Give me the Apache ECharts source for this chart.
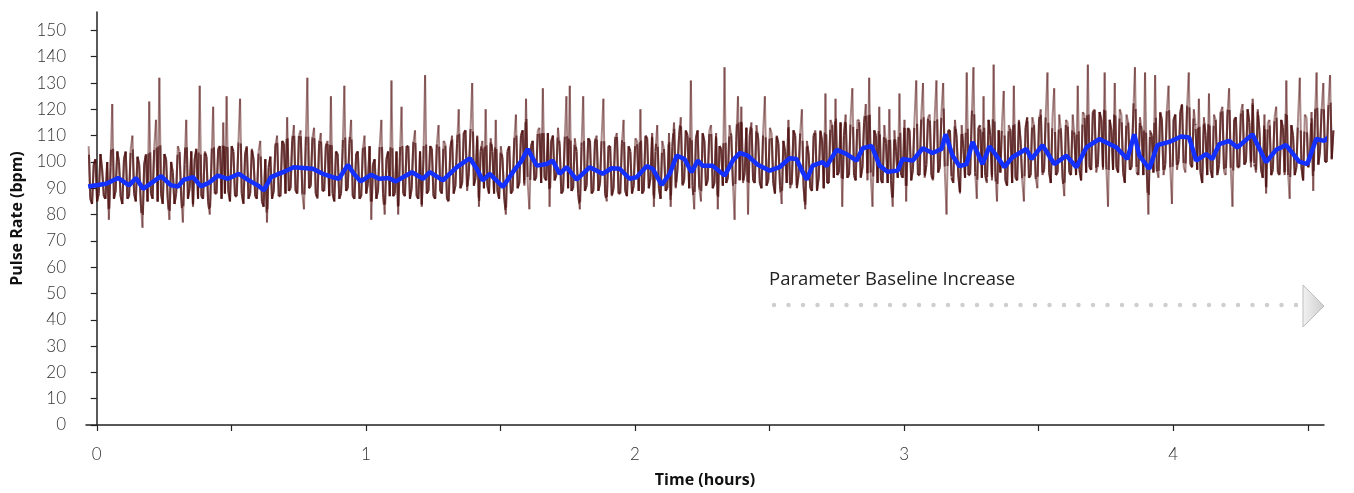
<!DOCTYPE html>
<html>
<head>
<meta charset="utf-8">
<script src="https://cdn.jsdelivr.net/npm/echarts@6/dist/echarts.min.js"></script>
<style>
html,body{margin:0;padding:0;background:#fff;}
#chart{width:1354px;height:493px;}
</style>
</head>
<body>
<div id="chart"></div>
<script>
// ---- data ----
const RAW_START_HOURS = -0.03;     // time of first raw sample
const RAW_STEP_HOURS = 0.00625;    // sampling interval of raw samples
// raw pulse samples, even-numbered samples
const rawPulseEven = [
106,84,101,88,97,86,78,122,89,100,
84,104,87,110,85,99,75,103,123,86,
116,132,84,101,78,96,88,104,77,116,
90,83,105,129,86,102,80,121,88,106,
115,125,85,104,87,124,84,106,88,101,
86,108,83,77,102,89,110,87,107,117,
90,114,88,112,82,132,91,113,86,111,
89,108,125,85,103,88,129,90,116,86,
104,87,110,92,78,101,89,116,80,104,
131,88,80,121,87,106,90,112,86,83,
133,89,105,86,114,88,107,85,110,91,
120,92,112,96,130,94,83,108,120,88,
104,116,86,101,80,106,89,118,92,112,
124,82,108,94,113,128,93,83,110,95,
106,89,125,129,90,104,82,125,91,108,
89,110,92,124,85,106,90,111,88,116,
87,104,91,108,120,89,109,94,83,114,
86,105,90,83,115,97,117,93,110,131,
82,112,85,108,93,114,92,82,105,136,
94,110,78,125,121,96,80,115,92,109,
90,125,93,111,88,107,84,104,116,92,
110,95,120,82,103,89,112,94,108,126,
92,114,124,96,83,118,95,128,93,116,
98,122,132,83,110,121,92,107,120,83,
104,126,94,85,112,97,131,95,130,99,
118,93,131,98,130,80,112,92,109,88,
105,134,95,136,86,114,125,92,110,137,
85,96,127,91,112,129,93,108,85,117,
95,114,90,120,97,134,92,128,96,112,
87,115,95,110,129,93,118,137,97,120,
99,116,134,83,112,130,96,118,92,115,
98,136,95,112,134,80,110,133,94,116,
99,129,84,118,101,122,96,134,98,114,
124,92,110,126,94,116,99,121,95,128,
83,117,98,122,100,115,124,96,112,94,
88,116,97,121,95,113,131,86,110,98,
132,93,117,101,89,134,104,130,100,133,112
];
// raw pulse samples, odd-numbered samples
const rawPulseOdd = [
86,99,85,103,87,100,98,86,104,87,
101,86,105,88,102,84,99,85,88,106,
85,88,103,86,100,84,106,87,99,86,
104,101,86,87,104,85,100,88,105,86,
88,89,106,87,107,88,103,86,105,87,
104,85,101,98,86,106,87,108,88,89,
108,89,110,88,106,90,109,88,107,89,
106,87,88,104,86,105,89,107,87,103,
86,105,88,106,99,86,106,88,101,87,
87,104,102,88,106,86,107,87,104,101,
88,106,87,107,89,108,86,105,88,107,
90,111,89,112,91,110,104,90,91,109,
88,89,106,87,104,88,108,90,110,91,
92,106,93,112,92,94,111,108,93,113,
88,108,90,89,109,88,106,89,109,88,
108,89,110,88,106,87,109,88,107,89,
106,88,109,89,88,110,90,111,104,90,
108,89,111,106,90,110,91,112,90,91,
109,90,111,91,112,90,111,106,91,92,
114,92,108,93,92,113,110,93,114,92,
112,91,113,92,110,91,108,92,90,112,
90,111,91,108,90,110,89,112,90,92,
116,94,95,115,110,94,117,95,116,94,
115,93,94,112,92,93,114,92,93,112,
94,95,116,113,93,117,95,118,94,117,
95,118,96,119,96,112,94,116,95,114,
94,95,117,96,113,94,95,116,93,96,
112,115,93,114,92,94,116,93,113,94,
117,94,116,95,118,96,117,95,118,94,
116,96,118,95,97,119,96,98,119,96,
119,97,98,116,97,98,120,96,118,97,
118,96,117,95,97,112,96,97,119,95,
120,98,116,97,119,98,121,99,120,97,
96,117,95,97,118,95,119,96,118,97,
116,98,119,99,120,98,99,120,97,118,
115,95,117,96,116,95,96,114,95,117,
98,118,98,119,116,99,120,100,121,101
];

// smoothed trend (blue)
const trendTime = [
-0.032,0.035,0.079,0.120,0.146,0.172,0.209,0.239,0.276,0.302,
0.324,0.358,0.387,0.417,0.450,0.487,0.528,0.565,0.598,0.621,
0.647,0.692,0.732,0.803,0.840,0.877,0.900,0.933,0.955,0.981,
1.019,1.049,1.085,1.111,1.171,1.212,1.238,1.286,1.338,1.386,
1.412,1.434,1.460,1.479,1.509,1.546,1.579,1.601,1.635,1.672,
1.694,1.720,1.746,1.783,1.832,1.880,1.913,1.943,1.980,2.006,
2.043,2.066,2.099,2.129,2.155,2.184,2.210,2.233,2.251,2.288,
2.333,2.363,2.389,2.419,2.456,2.500,2.537,2.574,2.600,2.623,
2.638,2.660,2.697,2.712,2.749,2.786,2.823,2.846,2.879,2.909,
2.938,2.976,2.994,3.032,3.069,3.106,3.139,3.154,3.180,3.206,
3.232,3.254,3.291,3.317,3.343,3.373,3.402,3.454,3.473,3.514,
3.558,3.603,3.640,3.677,3.725,3.789,3.829,3.855,3.874,3.911,
3.941,3.985,4.029,4.059,4.085,4.122,4.145,4.171,4.208,4.238,
4.294,4.345,4.382,4.419,4.468,4.498,4.531,4.561,4.580,4.602
];
const trendPulse = [
90.7,91.7,93.9,91.1,93.9,89.8,92.4,94.6,91.1,90.7,
93.3,94.2,90.7,92.1,94.8,93.6,95.5,93.0,91.1,89.2,
94.2,96.1,98.0,97.4,95.5,94.2,93.6,98.9,95.5,92.6,
95.1,93.6,93.9,92.6,96.1,93.6,96.1,93.0,98.0,101.4,
97.4,93.0,95.5,93.6,90.5,96.1,100.5,104.9,98.6,99.2,
100.5,95.5,98.0,93.3,98.0,95.5,97.6,97.4,93.6,94.2,
98.4,97.4,91.3,95.5,102.4,101.1,96.1,100.5,98.6,98.6,
94.8,100.5,103.4,102.4,98.9,96.7,98.0,101.4,101.1,96.1,
93.3,98.6,99.9,98.4,104.6,103.0,100.5,105.2,106.1,98.6,
96.3,96.7,101.1,100.5,105.2,103.4,104.9,110.5,102.4,98.4,
99.2,107.6,99.2,105.9,102.4,98.0,101.8,104.9,101.1,106.4,
99.2,102.4,98.0,105.5,108.7,105.5,101.1,110.5,102.4,97.4,
106.4,107.6,109.7,109.3,100.5,103.0,101.1,106.8,108.0,105.5,
110.5,99.9,104.6,106.4,100.1,99.2,108.7,108.0,109.7,113.0
];

const yTickValues = [0,10,20,30,40,50,60,70,80,90,100,110,120,130,140,150];
const xTickValues = [0,0.5,1,1.5,2,2.5,3,3.5,4,4.5];
const xLabelValues = [0,1,2,3,4];
const annotationText = 'Parameter Baseline Increase';

// ---- build ----
const rawPulse = [];
rawPulseEven.forEach((v, i) => {
  rawPulse.push(v);
  if (i < rawPulseOdd.length) rawPulse.push(rawPulseOdd[i]);
});
const rawPoints = rawPulse.map((v, i) => [RAW_START_HOURS + i * RAW_STEP_HOURS, v]);
const trendPoints = trendTime.map((t, i) => [t, trendPulse[i]]);

function trendAt(t) {
  if (t <= trendTime[0]) return trendPulse[0];
  for (let k = 1; k < trendTime.length; k++) {
    if (t <= trendTime[k]) {
      const f = (t - trendTime[k - 1]) / (trendTime[k] - trendTime[k - 1]);
      return trendPulse[k - 1] + f * (trendPulse[k] - trendPulse[k - 1]);
    }
  }
  return trendPulse[trendPulse.length - 1];
}

const chart = echarts.init(document.getElementById('chart'), null, {renderer: 'canvas'});

const option = {
  animation: false,
  grid: {left: 86, right: 30, top: 12, bottom: 64, containLabel: false},
  xAxis: {
    type: 'value',
    min: -0.04,
    max: 4.56,
    name: 'Time (hours)',
    nameLocation: 'middle',
    nameGap: 47,
    nameTextStyle: {fontFamily: 'Open Sans', fontWeight: 'bold', fontSize: 16, color: '#111'},
    axisLine: {show: true, onZero: false, lineStyle: {color: '#222', width: 1.5}},
    axisTick: {show: true, length: 6, lineStyle: {color: '#222', width: 1.2}, customValues: xTickValues},
    axisLabel: {customValues: xLabelValues, fontFamily: 'Lato', fontWeight: 300, fontSize: 17, color: '#333', margin: 21},
    splitLine: {show: false}
  },
  yAxis: {
    type: 'value',
    min: 0,
    max: 157,
    name: 'Pulse Rate (bpm)',
    nameLocation: 'middle',
    nameGap: 60,
    nameTextStyle: {fontFamily: 'Open Sans', fontWeight: 'bold', fontSize: 16, color: '#111'},
    axisLine: {show: true, lineStyle: {color: '#222', width: 1.5}},
    axisTick: {show: true, length: 6, lineStyle: {color: '#222', width: 1.2}, customValues: yTickValues},
    axisLabel: {customValues: yTickValues, fontFamily: 'Lato', fontWeight: 300, fontSize: 17, color: '#333', margin: 20},
    splitLine: {show: false}
  },
  graphic: [
    {
      type: 'text', left: 769, top: 270, z: 10,
      style: {text: annotationText, fontFamily: 'Open Sans', fontSize: 18.5, fill: '#222'}
    },
    {
      type: 'line', z: 10,
      shape: {x1: 774, y1: 305, x2: 1298, y2: 305},
      style: {stroke: '#cfcfcf', lineWidth: 4.5, lineDash: [0, 14.5], lineCap: 'round'}
    },
    {
      type: 'polygon', z: 10,
      shape: {points: [[1303, 285], [1324, 306], [1303, 327]]},
      style: {
        fill: new echarts.graphic.LinearGradient(0, 0, 1, 0, [
          {offset: 0, color: '#f2f2f2'}, {offset: 1, color: '#cdcdcd'}
        ]),
        stroke: '#bdbdbd', lineWidth: 1
      }
    }
  ],
  series: [
    {
      name: 'Pulse rate',
      type: 'custom',
      coordinateSystem: 'cartesian2d',
      clip: false,
      encode: {x: 0, y: 1},
      data: rawPoints,
      renderItem: function (params, api) {
        const i = params.dataIndex;
        if (i === 0) return null;
        const a = rawPoints[i - 1], b = rawPoints[i];
        const p0 = api.coord(a);
        const p1 = api.coord(b);
        const children = [{
          type: 'line',
          shape: {x1: p0[0], y1: p0[1], x2: p1[0], y2: p1[1]},
          style: {stroke: '#581616', lineWidth: 2, opacity: 0.5}
        }];
        // dense core around the running level is drawn darker
        const m = trendAt((a[0] + b[0]) / 2);
        const lo = m - 10, hi = m + 12;
        const dv = b[1] - a[1];
        let s0 = 0, s1 = 1;
        if (dv === 0) {
          if (a[1] < lo || a[1] > hi) s1 = -1;
        } else {
          const sl = (lo - a[1]) / dv, sh = (hi - a[1]) / dv;
          s0 = Math.max(0, Math.min(sl, sh));
          s1 = Math.min(1, Math.max(sl, sh));
        }
        if (s1 > s0) {
          const c0 = api.coord([a[0] + s0 * (b[0] - a[0]), a[1] + s0 * dv]);
          const c1 = api.coord([a[0] + s1 * (b[0] - a[0]), a[1] + s1 * dv]);
          children.push({
            type: 'line',
            shape: {x1: c0[0], y1: c0[1], x2: c1[0], y2: c1[1]},
            style: {stroke: '#4c1010', lineWidth: 2.1, opacity: 0.7}
          });
        }
        return {type: 'group', children: children};
      },
      z: 2
    },
    {
      name: 'Trend',
      type: 'line',
      data: trendPoints,
      showSymbol: false,
      clip: false,
      lineStyle: {color: '#1430ff', width: 4.5},
      z: 5
    }
  ]
};
chart.setOption(option);
</script>
</body>
</html>
